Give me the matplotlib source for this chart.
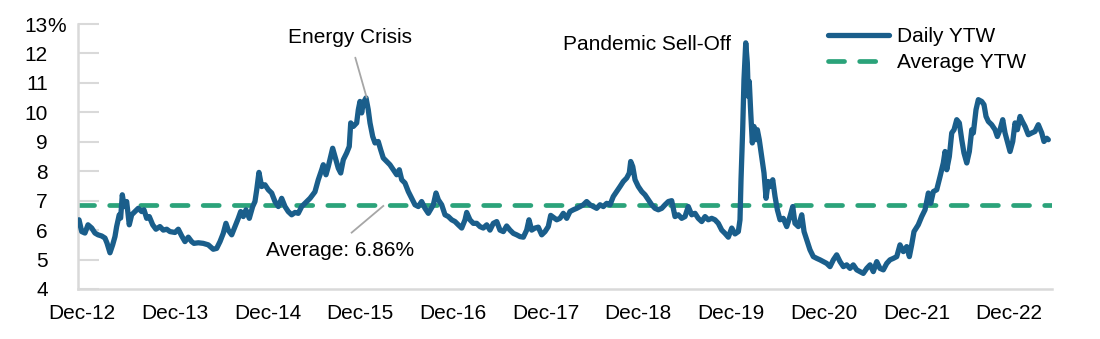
import matplotlib
matplotlib.use("Agg")
from matplotlib import pyplot as plt

# decimal year (Dec-YY tick = end of year) and yield to worst, %
years = [
    2012.968, 2012.997, 2013.032, 2013.065, 2013.105, 2013.140, 2013.173, 2013.213, 2013.248, 2013.270,
    2013.302, 2013.331, 2013.356, 2013.374, 2013.402, 2013.417, 2013.435, 2013.456, 2013.482, 2013.510,
    2013.536, 2013.572, 2013.607, 2013.644, 2013.669, 2013.698, 2013.726, 2013.763, 2013.798, 2013.841,
    2013.877, 2013.914, 2013.949, 2014.003, 2014.039, 2014.076, 2014.111, 2014.147, 2014.183, 2014.208,
    2014.255, 2014.308, 2014.362, 2014.416, 2014.453, 2014.489, 2014.524, 2014.553, 2014.578, 2014.615,
    2014.650, 2014.686, 2014.712, 2014.740, 2014.769, 2014.805, 2014.841, 2014.866, 2014.885, 2014.909,
    2014.938, 2014.974, 2015.010, 2015.046, 2015.082, 2015.118, 2015.154, 2015.190, 2015.225, 2015.262,
    2015.298, 2015.333, 2015.370, 2015.406, 2015.460, 2015.513, 2015.549, 2015.586, 2015.603, 2015.632,
    2015.657, 2015.683, 2015.704, 2015.729, 2015.765, 2015.791, 2015.819, 2015.855, 2015.883, 2015.899,
    2015.927, 2015.963, 2015.981, 2015.999, 2016.017, 2016.034, 2016.064, 2016.088, 2016.107, 2016.136,
    2016.161, 2016.196, 2016.222, 2016.250, 2016.287, 2016.322, 2016.358, 2016.395, 2016.423, 2016.449,
    2016.484, 2016.520, 2016.557, 2016.592, 2016.628, 2016.664, 2016.700, 2016.736, 2016.790, 2016.819,
    2016.844, 2016.880, 2016.916, 2016.952, 2016.988, 2017.024, 2017.059, 2017.096, 2017.132, 2017.150,
    2017.185, 2017.221, 2017.258, 2017.293, 2017.329, 2017.366, 2017.401, 2017.437, 2017.474, 2017.509,
    2017.545, 2017.581, 2017.617, 2017.653, 2017.689, 2017.725, 2017.761, 2017.797, 2017.822, 2017.851,
    2017.887, 2017.922, 2017.959, 2017.995, 2018.030, 2018.056, 2018.121, 2018.156, 2018.192, 2018.229,
    2018.264, 2018.300, 2018.337, 2018.372, 2018.408, 2018.444, 2018.480, 2018.516, 2018.552, 2018.588,
    2018.624, 2018.660, 2018.696, 2018.731, 2018.768, 2018.804, 2018.839, 2018.876, 2018.904, 2018.919,
    2018.941, 2018.966, 2019.001, 2019.038, 2019.073, 2019.109, 2019.146, 2019.181, 2019.217, 2019.254,
    2019.289, 2019.325, 2019.361, 2019.397, 2019.433, 2019.469, 2019.505, 2019.540, 2019.577, 2019.613,
    2019.648, 2019.685, 2019.721, 2019.756, 2019.793, 2019.828, 2019.864, 2019.901, 2019.936, 2019.972,
    2020.009, 2020.044, 2020.080, 2020.098, 2020.109, 2020.127, 2020.141, 2020.160, 2020.177, 2020.188,
    2020.198, 2020.214, 2020.231, 2020.249, 2020.271, 2020.285, 2020.306, 2020.332, 2020.357, 2020.379,
    2020.403, 2020.429, 2020.451, 2020.476, 2020.501, 2020.530, 2020.565, 2020.602, 2020.637, 2020.667,
    2020.691, 2020.727, 2020.764, 2020.789, 2020.818, 2020.853, 2020.889, 2020.926, 2020.961, 2020.997,
    2021.033, 2021.069, 2021.105, 2021.141, 2021.177, 2021.213, 2021.249, 2021.285, 2021.320, 2021.357,
    2021.393, 2021.428, 2021.465, 2021.501, 2021.536, 2021.573, 2021.608, 2021.644, 2021.681, 2021.716,
    2021.752, 2021.789, 2021.824, 2021.860, 2021.896, 2021.925, 2021.950, 2021.975, 2022.021, 2022.058,
    2022.094, 2022.130, 2022.155, 2022.184, 2022.220, 2022.256, 2022.291, 2022.310, 2022.328, 2022.356,
    2022.382, 2022.407, 2022.436, 2022.464, 2022.490, 2022.514, 2022.544, 2022.572, 2022.598, 2022.615,
    2022.644, 2022.669, 2022.705, 2022.730, 2022.752, 2022.777, 2022.813, 2022.849, 2022.874, 2022.903,
    2022.932, 2022.957, 2022.982, 2023.011, 2023.040, 2023.065, 2023.090, 2023.119, 2023.144, 2023.173,
    2023.208, 2023.245, 2023.280, 2023.316, 2023.353, 2023.377, 2023.407, 2023.424,
]
ytw = [
    6.35, 5.95, 5.90, 6.18, 6.07, 5.90, 5.84, 5.80, 5.73, 5.56,
    5.23, 5.50, 5.78, 6.12, 6.52, 6.41, 7.20, 6.80, 6.97, 6.18,
    6.52, 6.63, 6.74, 6.63, 6.69, 6.40, 6.46, 6.18, 6.03, 6.12,
    6.00, 6.03, 5.95, 5.92, 6.03, 5.80, 5.61, 5.76, 5.61, 5.55,
    5.57, 5.55, 5.50, 5.35, 5.38, 5.61, 5.89, 6.23, 6.00, 5.84,
    6.12, 6.40, 6.63, 6.46, 6.69, 6.40, 6.80, 6.97, 7.37, 7.96,
    7.48, 7.54, 7.37, 7.26, 6.97, 6.80, 7.08, 6.80, 6.63, 6.52,
    6.60, 6.57, 6.80, 6.91, 7.08, 7.30, 7.71, 8.05, 8.22, 7.88,
    8.16, 8.50, 8.78, 8.50, 8.10, 7.94, 8.39, 8.62, 8.84, 9.64,
    9.52, 9.64, 10.09, 10.37, 9.98, 10.32, 10.49, 10.09, 9.64, 9.18,
    8.96, 9.01, 8.73, 8.45, 8.33, 8.22, 8.05, 7.88, 8.05, 7.71,
    7.60, 7.31, 7.08, 6.86, 6.80, 6.97, 6.74, 6.57, 6.86, 7.26,
    7.03, 6.86, 6.52, 6.46, 6.35, 6.29, 6.18, 6.07, 6.35, 6.60,
    6.35, 6.23, 6.23, 6.12, 6.07, 6.18, 6.00, 6.23, 6.29, 6.00,
    5.95, 6.14, 6.00, 5.89, 5.84, 5.78, 5.76, 6.00, 6.35, 6.00,
    6.07, 6.10, 5.84, 5.95, 6.12, 6.50, 6.35, 6.40, 6.57, 6.40,
    6.63, 6.69, 6.74, 6.80, 6.86, 6.97, 6.86, 6.80, 6.74, 6.86,
    6.80, 6.91, 6.86, 7.14, 7.31, 7.48, 7.65, 7.77, 7.94, 8.33,
    8.16, 7.71, 7.48, 7.31, 7.20, 7.03, 6.86, 6.74, 6.69, 6.74,
    6.86, 6.97, 7.00, 6.46, 6.52, 6.40, 6.46, 6.80, 6.52, 6.57,
    6.40, 6.29, 6.46, 6.35, 6.40, 6.35, 6.23, 6.00, 5.89, 5.76,
    6.07, 5.87, 5.95, 6.35, 7.71, 9.41, 11.11, 12.36, 11.68, 10.54,
    11.05, 9.98, 8.96, 9.52, 9.07, 9.41, 9.07, 8.50, 7.94, 7.08,
    7.65, 7.48, 7.71, 7.14, 6.69, 6.35, 6.40, 6.12, 6.46, 6.80,
    6.23, 6.12, 6.52, 5.95, 5.67, 5.33, 5.10, 5.04, 4.99, 4.93,
    4.87, 4.76, 4.99, 5.16, 4.93, 4.76, 4.82, 4.70, 4.82, 4.65,
    4.59, 4.53, 4.70, 4.82, 4.59, 4.93, 4.70, 4.65, 4.87, 4.99,
    5.04, 5.10, 5.50, 5.27, 5.44, 5.10, 5.50, 5.95, 6.18, 6.46,
    6.69, 7.26, 6.91, 7.31, 7.37, 7.82, 8.28, 8.67, 8.05, 8.50,
    9.30, 9.41, 9.75, 9.64, 9.07, 8.62, 8.28, 8.67, 9.41, 9.30,
    10.09, 10.43, 10.37, 10.26, 9.86, 9.69, 9.58, 9.41, 9.18, 9.41,
    9.75, 9.30, 9.01, 8.67, 9.01, 9.64, 9.41, 9.86, 9.69, 9.52,
    9.24, 9.30, 9.35, 9.58, 9.30, 9.01, 9.12, 9.07,
]
average_ytw = 6.86

tick_years = [2013, 2014, 2015, 2016, 2017, 2018, 2019, 2020, 2021, 2022, 2023]
tick_labels = ["Dec-12", "Dec-13", "Dec-14", "Dec-15", "Dec-16", "Dec-17",
               "Dec-18", "Dec-19", "Dec-20", "Dec-21", "Dec-22"]
y_ticks = [4, 5, 6, 7, 8, 9, 10, 11, 12, 13]

BLUE = "#1a5e8b"
GREEN = "#2ba37a"
GRAY = "#d9d9d9"
LEADER = "#a6a6a6"

plt.rcParams["font.family"] = ["Liberation Sans", "DejaVu Sans"]

fig = plt.figure(figsize=(11, 3.39), dpi=100)
ax = fig.add_axes([0.0709, 0.1475, 0.8855, 0.7817])

ax.axhline(average_ytw, color=GREEN, lw=3.4, dashes=(3.4, 3.2),
           dash_capstyle="round", label="Average YTW", zorder=2)
ax.plot(years, ytw, color=BLUE, lw=3.8, solid_joinstyle="round",
        solid_capstyle="round", label="Daily YTW", zorder=3)

ax.set_xlim(2012.957, 2023.464)
ax.set_ylim(4, 13)

for s in ["top", "right"]:
    ax.spines[s].set_visible(False)
for s in ["left", "bottom"]:
    ax.spines[s].set_color(GRAY)
    ax.spines[s].set_linewidth(1.8)

ax.set_xticks(tick_years)
ax.set_xticklabels(tick_labels)
ax.tick_params(axis="x", length=0, pad=11, labelsize=15)
ax.set_yticks(y_ticks)
ax.set_yticklabels([str(v) for v in y_ticks])
ax.tick_params(axis="y", direction="in", length=15, width=1.5, color=GRAY,
               pad=21.6, labelsize=15)
# the % sign sits after the top label, outside the right-aligned column
ax.annotate("%", xy=(0, 13), xycoords=ax.get_yaxis_transform(),
            xytext=(-21.8, 0), textcoords="offset points",
            ha="left", va="center_baseline", fontsize=15)

# annotations
ax.annotate("Energy Crisis", xy=(2016.071, 10.5), xytext=(2015.886, 12.36),
            ha="center", va="baseline", fontsize=15,
            arrowprops=dict(arrowstyle="-", color=LEADER, lw=1.3,
                            shrinkA=6, shrinkB=0))
ax.text(2019.09, 12.13, "Pandemic Sell-Off", ha="center", va="baseline", fontsize=15)
ax.plot([2015.909, 2016.250], [5.915, 6.82], color=LEADER, lw=1.3, zorder=4)
ax.text(2015.783, 5.12, f"Average: {average_ytw:.2f}%", ha="center",
        va="baseline", fontsize=15)

handles, labels = ax.get_legend_handles_labels()
leg = ax.legend(handles[::-1], labels[::-1], loc="upper left",
                bbox_to_anchor=(828 / 1100, 1 - 27 / 339),
                bbox_transform=fig.transFigure, frameon=False, fontsize=15,
                handlelength=2.95, handletextpad=0.38, labelspacing=0.35,
                borderpad=0, borderaxespad=0)

plt.savefig("out.png", dpi=100)
